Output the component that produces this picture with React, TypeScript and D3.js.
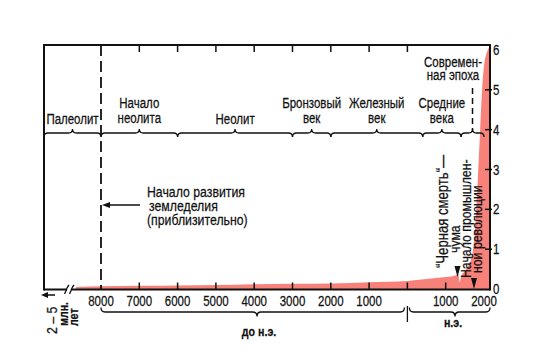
import React from "react";
import * as d3 from "d3";

// ---- data (population, billions) ----
const years = [-8650, -8000, -7000, -6000, -5000, -4000, -3000, -2000, -1000, 0, 500, 1000, 1250, 1330, 1360, 1400, 1500, 1600, 1700, 1750, 1800, 1850, 1900, 1950, 2000, 2100, 2160];
const population = [0.05, 0.07, 0.08, 0.09, 0.1, 0.12, 0.13, 0.14, 0.17, 0.2, 0.25, 0.3, 0.34, 0.37, 0.17, 0.3, 0.45, 0.6, 0.9, 1.3, 2.0, 3.0, 4.0, 5.0, 5.6, 6.0, 6.1];

const xTickYears = [-8000, -7000, -6000, -5000, -4000, -3000, -2000, -1000, 1000, 2000];
const xTickLabels = ["8000", "7000", "6000", "5000", "4000", "3000", "2000", "1000", "1000", "2000"];
const topTickYears = [-7000, -6000, -5000, -4000, -3000, -2000, -1000, 0];
const bottomTickYears = [-7000, -6000, -5000, -4000, -3000, -2000, -1000, 0, 1000];
const yTicks = [0, 1, 2, 3, 4, 5, 6];

const eraBounds = [-8000, -6000, -3000, -2000, 400, 1400, 2000];
const eraLabels = [["Начало", "неолита"], ["Неолит"], ["Бронзовый", "век"], ["Железный", "век"], ["Средние", "века"]];

const FONT = "'Liberation Sans', Arial, sans-serif";
const RED = "#f8827a";
const SX = 0.82;

const L = 44, R = 490, T = 45, B = 289.5;

function hBrace(x1: number, x2: number, y: number, h: number, t: number, xm?: number) {
  const m = xm ?? (x1 + x2) / 2;
  const r = Math.min(4, (x2 - x1) / 4);
  return `M${x1},${y - t * h} Q${x1},${y} ${x1 + r},${y} L${m - r},${y} Q${m},${y} ${m},${y + t * h} Q${m},${y} ${m + r},${y} L${x2 - r},${y} Q${x2},${y} ${x2},${y - t * h}`;
}

function NT(props: { x: number; y: number; size?: number; anchor?: string; rot?: number; bold?: boolean; children: React.ReactNode }) {
  const { x, y, size = 14, anchor = "start", rot = 0, bold = false, children } = props;
  return (
    <text
      transform={`translate(${x},${y}) rotate(${rot}) scale(${SX},1)`}
      textAnchor={anchor}
      fontSize={size}
      fontFamily={FONT}
      fontWeight={bold ? "bold" : "normal"}
      fill="#111"
      stroke="#111"
      strokeWidth={0.25}
    >
      {children}
    </text>
  );
}

export default function App() {
  const x = d3.scaleLinear().domain([-8000, 2000]).range([101, 484]);
  const y = d3.scaleLinear().domain([0, 6]).range([289, 50]);
  const data = years.map((yr, i) => ({ yr, v: population[i] }));
  const area = d3.area<{ yr: number; v: number }>()
    .x(d => Math.min(x(d.yr), R))
    .y0(y(0))
    .y1(d => y(d.v))
    .curve(d3.curveMonotoneX);

  const braceY = 133;
  const eraSegs = eraBounds.slice(0, -1).map((b, i) => [x(b), x(eraBounds[i + 1])]);

  return (
    <svg width={537} height={356} style={{ position: "absolute", left: 0, top: 0, background: "#fff" }}>
      <path d={area(data) || ""} fill={RED} />

      {/* frame */}
      <g stroke="#111" strokeWidth={2} fill="none">
        <line x1={L} y1={T} x2={R} y2={T} />
        <line x1={L} y1={T - 1} x2={L} y2={B + 1} />
        <line x1={R} y1={T - 1} x2={R} y2={B + 1} />
        <line x1={L} y1={B} x2={67} y2={B} />
        <line x1={72} y1={B} x2={R} y2={B} />
      </g>
      <g stroke="#111" strokeWidth={1.3} fill="none">
        <path d="M64.5,294 Q67,289 66.5,289 Q68,286 69,285" />
        <path d="M69.5,294 Q72,289 71.5,289 Q73,286 74,285" />
      </g>

      <g stroke="#111" strokeWidth={1.5}>
        {topTickYears.map(t => <line key={"tt" + t} x1={x(t)} x2={x(t)} y1={T} y2={T + 7} />)}
        {bottomTickYears.map(t => <line key={"bt" + t} x1={x(t)} x2={x(t)} y1={B} y2={B - 7} />)}
        {yTicks.slice(1, -1).map(v => <line key={"yt" + v} x1={R - 5} x2={R + 2} y1={y(v)} y2={y(v)} />)}
      </g>

      <line x1={x(-8000)} x2={x(-8000)} y1={T} y2={B} stroke="#111" strokeWidth={1.8} strokeDasharray="11,5" />

      {xTickYears.map((t, i) => (
        <NT key={"xl" + i} x={x(t)} y={306} anchor="middle">{xTickLabels[i]}</NT>
      ))}
      {yTicks.map(v => (
        <NT key={"yl" + v} x={493} y={y(v) + 5}>{v}</NT>
      ))}

      <g stroke="#111" strokeWidth={1.3} fill="none">
        <path d={hBrace(L, x(-8000), braceY, 4, -1)} />
        {eraSegs.map(([a, b], i) => <path key={"eb" + i} d={hBrace(a, b, braceY, 4, -1)} />)}
      </g>
      <line x1={x(1700)} x2={x(1700)} y1={88} y2={braceY - 3} stroke="#111" strokeWidth={1.5} strokeDasharray="6,4" />

      <NT x={(L + x(-8000)) / 2} y={124} anchor="middle">Палеолит</NT>
      {eraLabels.map((lines, i) => {
        const cx = (eraSegs[i][0] + eraSegs[i][1]) / 2;
        return lines.length === 1
          ? <NT key={"el" + i} x={cx} y={124} anchor="middle">{lines[0]}</NT>
          : <g key={"el" + i}>
              <NT x={cx} y={108} anchor="middle">{lines[0]}</NT>
              <NT x={cx} y={123} anchor="middle">{lines[1]}</NT>
            </g>;
      })}
      <NT x={453} y={67} anchor="middle">Современ-</NT>
      <NT x={453} y={80} anchor="middle">ная эпоха</NT>

      <NT x={147} y={197} size={15}>Начало развития</NT>
      <NT x={149} y={211} size={15}>земледелия</NT>
      <NT x={147} y={225} size={15}>(приблизительно)</NT>
      <line x1={108} x2={140} y1={205} y2={205} stroke="#111" strokeWidth={1.5} />
      <path d="M102,205 L110,202 L110,208 Z" fill="#111" />

      <NT x={448} y={268} rot={-90} size={16}>“Черная смерть“—</NT>
      <NT x={460} y={253} rot={-90} size={15}>чума</NT>
      <path d="M454.5,266 L460.5,266 L457.5,277 Z" fill="#111" />
      <NT x={471} y={278} rot={-90} size={15}>Начало промышлен-</NT>
      <NT x={481.5} y={273} rot={-90} size={15}>ной революции</NT>
      <path d="M471,278 L477,278 L474,289 Z" fill="#111" />

      <g stroke="#111" strokeWidth={1.5}>
        <line x1={46} x2={55} y1={295} y2={295} />
      </g>
      <path d="M41,295 L48,292 L48,298 Z" fill="#111" />
      <NT x={57} y={334} rot={-90} size={15}>2 – 5</NT>
      <NT x={68} y={326} rot={-90} size={13} bold>млн.</NT>
      <NT x={78} y={326} rot={-90} size={13} bold>лет</NT>

      <g stroke="#111" strokeWidth={1.3} fill="none">
        <path d={hBrace(x(-8000), x(0) - 3, 312, 4.5, 1, 257)} />
        <path d={hBrace(x(0) + 2, R, 312, 4.5, 1, 455)} />
        <line x1={x(0)} x2={x(0)} y1={306} y2={322} />
      </g>
      <NT x={259} y={336} anchor="middle" size={13} bold>до н.э.</NT>
      <NT x={453} y={327} anchor="middle" size={13} bold>н.э.</NT>
    </svg>
  );
}
